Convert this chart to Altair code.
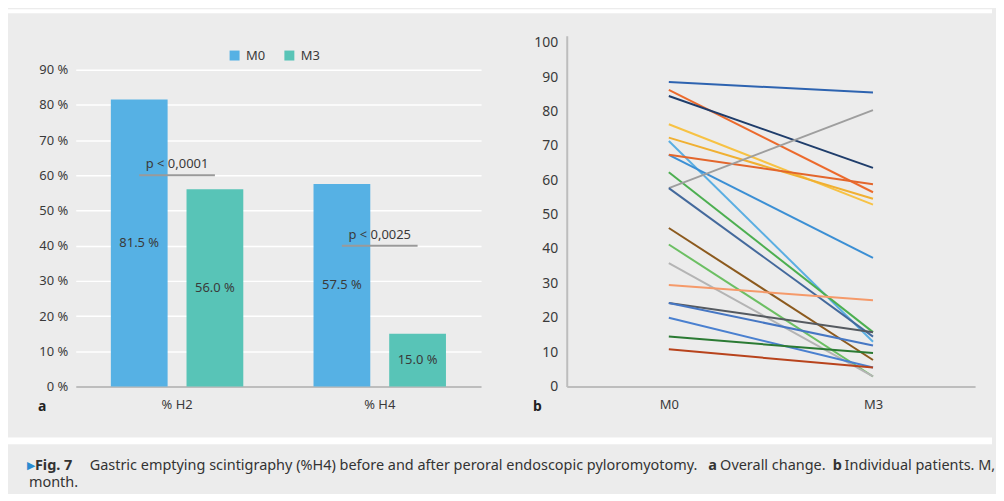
import altair as alt
import pandas as pd

FONT = "Noto Sans"
TXT = "#3a3a3a"
PANEL = "#ececec"

# ---------------- Panel a data ----------------
categories = ["% H2", "% H4"]
series = ["M0", "M3"]
m0_values = [81.5, 57.5]
m3_values = [56.0, 15.0]
bar_colors = ["#56b1e4", "#58c4b7"]
p_texts = ["p < 0,0001", "p < 0,0025"]
p_levels = [60, 40]

# ---------------- Panel b data ----------------
patients = [f"P{i:02d}" for i in range(1, 21)]
patient_m0 = [88.6, 86.3, 84.5, 76.3, 72.4, 71.4, 67.4, 67.4, 62.3, 57.7,
              57.7, 46.1, 41.3, 35.9, 29.5, 24.3, 24.3, 20.0, 14.5, 10.8]
patient_m3 = [85.5, 56.5, 63.6, 52.9, 54.6, 13.0, 37.4, 58.8, 15.8, 80.4,
              14.5, 7.7, 2.9, 2.9, 25.1, 15.8, 11.9, 5.5, 9.7, 5.5]
patient_colors = ["#2d63b0", "#ec6a2c", "#1f3d6b", "#f7c244", "#f0b032",
                  "#5aaee2", "#3b8fd4", "#e3662c", "#4caf50", "#9e9e9e",
                  "#44699c", "#8c5a1e", "#6cbf63", "#b4b4b4", "#f59a6a",
                  "#555a60", "#4677c4", "#4a80d0", "#2b7a33", "#b8431c"]

# ---------------- tables ----------------
bars_df = pd.DataFrame({
    "cat": categories * 2,
    "series": [series[0]] * 2 + [series[1]] * 2,
    "value": m0_values + m3_values,
})
bars_df["mid"] = bars_df["value"] / 2
bars_df["label"] = bars_df["value"].map(lambda v: f"{v:.1f} %")

pline_df = pd.DataFrame({
    "cat": [c for c in categories for _ in series],
    "series": series * len(categories),
    "level": [l for l in p_levels for _ in series],
})
ptext_df = pd.DataFrame({"cat": categories, "level": p_levels, "text": p_texts})

lines_df = pd.DataFrame({
    "pid": patients * 2,
    "time": [series[0]] * len(patients) + [series[1]] * len(patients),
    "value": patient_m0 + patient_m3,
})

one = pd.DataFrame({"k": [0]})

W_L, W_R, H = 407, 410, 352

# ---------------- Panel a ----------------
x_scale_a = alt.Scale(paddingInner=0, paddingOuter=0)
x_axis_a = alt.Axis(title=None, labelAngle=0, ticks=False, grid=False,
                    domainColor="#a9a9a9", domainWidth=1.5,
                    labelPadding=12, labelFontSize=13,
                    labelColor=TXT, labelFont=FONT)
off_scale = alt.Scale(paddingInner=0.25, paddingOuter=0.464)
y_scale_a = alt.Scale(domain=[0, 99.6], nice=False)
y_axis_a = alt.Axis(title=None, values=list(range(0, 100, 10)),
                    labelExpr="datum.value + ' %'", grid=True,
                    gridColor="#ffffff", gridWidth=1.5, domain=False,
                    ticks=False, labelPadding=8, labelFontSize=13,
                    labelColor=TXT, labelFont=FONT, labelOverlap=False)


def xa():
    return alt.X("cat:N", sort=categories, scale=x_scale_a, axis=x_axis_a)


def xo():
    return alt.XOffset("series:N", sort=series, scale=off_scale)


def ya(field):
    return alt.Y(field, scale=y_scale_a, axis=y_axis_a)


# white strips that separate the grey panels (the canvas itself is grey)
top_strip = alt.Chart(one).mark_rect(color="#ffffff").encode(
    x=alt.value(-68), x2=alt.value(920), y=alt.value(-26.8), y2=alt.value(-22.8))
gap_strip = alt.Chart(one).mark_rect(color="#ffffff").encode(
    x=alt.value(-68), x2=alt.value(920), y=alt.value(403.2), y2=alt.value(410.2))
caption_box = alt.Chart(one).mark_rect(color=PANEL).encode(
    x=alt.value(-68), x2=alt.value(920), y=alt.value(410.2), y2=alt.value(458.2))

bars = alt.Chart(bars_df).mark_bar().encode(
    x=xa(), xOffset=xo(), y=ya("value:Q"),
    color=alt.Color("series:N", sort=series,
                    scale=alt.Scale(domain=series, range=bar_colors),
                    legend=alt.Legend(title=None, orient="none", legendX=153,
                                      legendY=13, direction="horizontal",
                                      symbolType="square", symbolSize=100,
                                      symbolStrokeWidth=0, labelFontSize=13,
                                      labelFont=FONT, labelColor=TXT,
                                      columnPadding=17, labelOffset=5,
                                      padding=0)))

bar_text = alt.Chart(bars_df).mark_text(fontSize=13, font=FONT, color=TXT).encode(
    x=xa(), xOffset=xo(), y=ya("mid:Q"), text="label:N")

p_lines = alt.Chart(pline_df).mark_line(color="#9a9a9a", strokeWidth=2).encode(
    x=xa(), xOffset=xo(), y=ya("level:Q"), detail="cat:N")

p_text = alt.Chart(ptext_df).mark_text(fontSize=13, font=FONT, color=TXT,
                                       baseline="bottom", dy=-4).encode(
    x=xa(), y=ya("level:Q"), text="text:N")

label_a = alt.Chart(one).mark_text(text="a", fontSize=14, fontWeight="bold",
                                   font=FONT, color="#222", align="left",
                                   baseline="middle").encode(
    x=alt.value(-38), y=alt.value(373))


def cap(txt, x, y, bold=False, color="#333333", font=FONT, size=14.5):
    return alt.Chart(one).mark_text(text=txt, fontSize=size, font=font,
                                    fontWeight="bold" if bold else "normal",
                                    color=color, align="left",
                                    baseline="middle").encode(
        x=alt.value(x), y=alt.value(y))


cy1, cy2 = 431.7, 449.2
caption = [
    cap("\u25B6", -49, cy1, color="#2a8bd0", font="DejaVu Sans", size=11),
    cap("Fig. 7", -41, cy1, bold=True),
    cap("Gastric emptying scintigraphy (%H4) before and after peroral endoscopic pyloromyotomy.", 14, cy1),
    cap("a", 635, cy1, bold=True),
    cap("Overall change.", 647, cy1),
    cap("b", 760, cy1, bold=True),
    cap("Individual patients. M,", 772, cy1),
    cap("month.", -47, cy2),
]

left = alt.layer(top_strip, gap_strip, caption_box, bars, bar_text, p_lines,
                 p_text, label_a, *caption).properties(width=W_L, height=H)

# ---------------- Panel b ----------------
lines = alt.Chart(lines_df).mark_line(strokeWidth=2).encode(
    x=alt.X("time:N", sort=series, scale=alt.Scale(type="point", padding=0.5),
            axis=alt.Axis(title=None, labelAngle=0, ticks=False, grid=False,
                          domainColor="#bdbdbd", domainWidth=2,
                          labelPadding=12, labelFontSize=13, labelFont=FONT,
                          labelColor=TXT)),
    y=alt.Y("value:Q", scale=alt.Scale(domain=[0, 102], nice=False),
            axis=alt.Axis(title=None, values=list(range(0, 101, 10)),
                          grid=False, ticks=False, domainColor="#bdbdbd",
                          domainWidth=2, labelPadding=9, labelFontSize=14,
                          labelFont=FONT, labelColor=TXT, labelOverlap=False)),
    color=alt.Color("pid:N", sort=patients,
                    scale=alt.Scale(domain=patients, range=patient_colors),
                    legend=None),
    detail="pid:N")

label_b = alt.Chart(one).mark_text(text="b", fontSize=14, fontWeight="bold",
                                   font=FONT, color="#222", align="left",
                                   baseline="middle").encode(
    x=alt.value(-34), y=alt.value(373))

right = alt.layer(lines, label_b).properties(width=W_R, height=H)

chart = alt.hconcat(left, right, spacing=86, bounds="flush").resolve_scale(
    color="independent"
).properties(
    padding={"left": 0, "top": 0, "right": 0, "bottom": 0},
    background=PANEL,
).configure_view(strokeWidth=0, stroke="transparent")

chart.save("out.html", embed_options={"renderer": "svg", "actions": False})
